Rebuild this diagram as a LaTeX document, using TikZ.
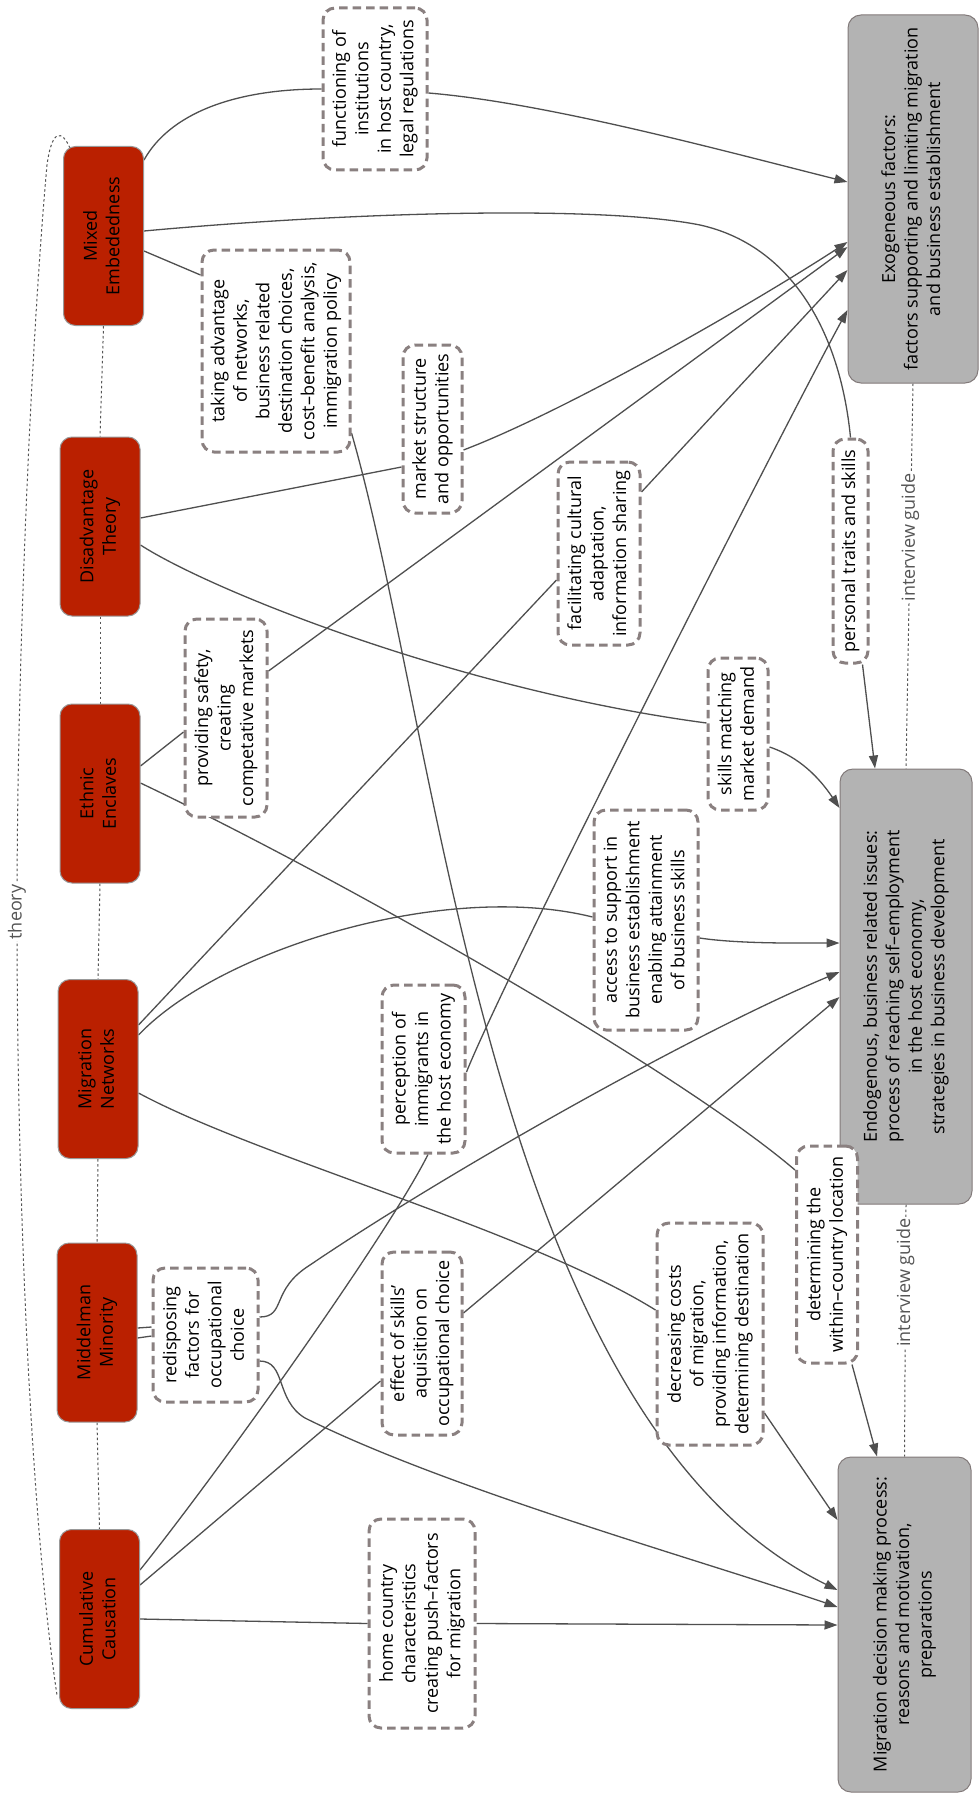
\documentclass[tikz,border=0pt]{standalone}
\usepackage{fontspec}
\setmainfont{Open Sans}
\usetikzlibrary{arrows.meta,calc,backgrounds}
\definecolor{thred}{HTML}{BA2000}
\definecolor{tgray}{HTML}{B3B3B3}
\definecolor{tborder}{HTML}{827A7A}
\definecolor{lborder}{HTML}{8A8080}
\definecolor{edgec}{HTML}{4F4F4F}
\definecolor{guidec}{HTML}{555555}
\newcommand{\vtxt}[1]{\rotatebox{90}{\begin{tabular}{@{}c@{}}#1\end{tabular}}}
\begin{document}
\begin{tikzpicture}[x=1pt,y=-1pt,
  every node/.style={font=\fontsize{18}{22.5}\selectfont, inner sep=0pt},
  theorybox/.style={draw=gray!80, fill=thred, rounded corners=12pt, line width=1pt, minimum width=80pt, minimum height=179pt},
  targetbox/.style={draw=tborder, fill=tgray, rounded corners=13pt, line width=1pt},
  lblbox/.style={draw=lborder, fill=white, dash pattern=on 8.5pt off 5pt, line width=3pt, rounded corners=12pt},
  conn/.style={draw=edgec, line width=1.3pt},
  arr/.style={conn, -{Triangle[length=13pt,width=9pt]}},
  dotline/.style={draw=guidec, line width=1pt, dash pattern=on 2.5pt off 2.5pt},
  guidelbl/.style={fill=white, text=guidec, inner sep=1.5pt}
]
\useasboundingbox (0,0) rectangle (979,1798);

% theory nodes
\node[theorybox] (mixed) at (103.5,236) {\vtxt{Mixed\\Embededness}};
\node[theorybox] (disadv) at (100,526.5) {\vtxt{Disadvantage\\Theory}};
\node[theorybox] (ethnic) at (100,793.5) {\vtxt{Ethnic\\Enclaves}};
\node[theorybox] (networks) at (98,1069) {\vtxt{Migration\\Networks}};
\node[theorybox] (middleman) at (97,1332.5) {\vtxt{Middelman\\Minority}};
\node[theorybox] (cumulative) at (99.5,1619) {\vtxt{Cumulative\\Causation}};

% target nodes
\node[targetbox, minimum width=130pt, minimum height=368pt] (exo) at (913,199) {\vtxt{Exogeneous factors:\\factors supporting and limiting migration\\and business establishment}};
\node[targetbox, minimum width=132pt, minimum height=435pt] (endo) at (906,986.5) {\vtxt{Endogenous, business related issues:\\process of reaching self--employment\\in the host economy,\\strategies in business development}};
\node[targetbox, minimum width=133pt, minimum height=335pt] (migdec) at (904.5,1624.5) {\vtxt{Migration decision making process:\\reasons and motivation,\\preparations}};

% label boxes
\node[lblbox, minimum width=104pt, minimum height=162pt] (functioning) at (375,89) {\vtxt{functioning of\\institutions\\in host country,\\legal regulations}};
\node[lblbox, minimum width=148pt, minimum height=202pt] (taking) at (276,351) {\vtxt{taking advantage\\of networks,\\business related\\destination choices,\\cost--benefit analysis,\\immigration policy}};
\node[lblbox, minimum width=59pt, minimum height=168pt] (market) at (432.5,429) {\vtxt{market structure\\and opportunities}};
\node[lblbox, minimum width=82pt, minimum height=183pt] (facilitating) at (599,553.5) {\vtxt{facilitating cultural\\adaptation,\\information sharing}};
\node[lblbox, minimum width=82pt, minimum height=198pt] (safety) at (226,718) {\vtxt{providing safety,\\creating\\competative markets}};
\node[lblbox, minimum width=60pt, minimum height=152pt] (skillsmatch) at (738,734) {\vtxt{skills matching\\market demand}};
\node[lblbox, minimum width=104pt, minimum height=220pt] (access) at (646,920) {\vtxt{access to support in\\business establishment\\enabling attainment\\of business skills}};
\node[lblbox, minimum width=35pt, minimum height=224pt] (personal) at (850.5,551) {\vtxt{personal traits and skills}};
\node[lblbox, minimum width=83pt, minimum height=168pt] (perception) at (423.5,1069) {\vtxt{perception of\\immigrants in\\the host economy}};
\node[lblbox, minimum width=61pt, minimum height=217pt] (determining) at (827,1254.5) {\vtxt{determining the\\within--country location}};
\node[lblbox, minimum width=106pt, minimum height=222pt] (decreasing) at (710,1334) {\vtxt{decreasing costs\\of migration,\\providing information,\\determining destination}};
\node[lblbox, minimum width=80pt, minimum height=183pt] (effect) at (422,1343.5) {\vtxt{effect of skills'\\aquisition on\\occupational choice}};
\node[lblbox, minimum width=105pt, minimum height=134pt] (redisposing) at (205.5,1335) {\vtxt{redisposing\\factors for\\occupational\\choice}};
\node[lblbox, minimum width=106pt, minimum height=209pt] (home) at (422,1623.5) {\vtxt{home country\\characteristics\\creating push--factors\\for migration}};

\begin{pgfonlayer}{background}
\fill[white] (0,0) rectangle (979,1798);

% theory chain
\draw[dotline] (mixed.south) -- (disadv.north);
\draw[dotline] (disadv.south) -- (ethnic.north);
\draw[dotline] (ethnic.south) -- (networks.north);
\draw[dotline] (networks.south) -- (middleman.north);
\draw[dotline] (middleman.south) -- (cumulative.north);
\draw[dotline] ([xshift=7pt,yshift=-2pt]mixed.north west) .. controls (62,130) and (52,128) .. (47,165) .. controls (32,330) and (17,650) .. (17,912) node[guidelbl] (thlbl) {\rotatebox{90}{theory}} .. controls (17,1250) and (35,1550) .. ([xshift=-2pt,yshift=14pt]cumulative.south west);

% interview guide
\draw[dotline] (exo.south) -- node[guidelbl, pos=0.4] (ig1) {\rotatebox{90}{interview guide}} (endo.north);
\draw[dotline] (endo.south) -- node[guidelbl, pos=0.31] (ig2) {\rotatebox{90}{interview guide}} (migdec.north);

% Mixed Embededness
\draw[conn] ([yshift=76pt]mixed.east) .. controls +(25,-45) and +(-90,0) .. (functioning.west);
\draw[arr] ([yshift=-4pt]functioning.east) .. controls +(120,10) and +(-120,-30) .. ([yshift=17pt]exo.west);
\draw[conn] ([yshift=5pt]mixed.east) .. controls (350,212) and (600,205) .. (700,225) .. controls (790,245) and (840,330) .. (personal.north);
\draw[arr] ([xshift=12pt]personal.south) -- ([xshift=-31pt]endo.north);
\draw[conn] ([yshift=-15pt]mixed.east) -- ([yshift=76pt]taking.west);
\draw[arr] ([yshift=-82pt]taking.east) .. controls (440,740) and (490,1420) .. ([yshift=34.5pt]migdec.west);

% Disadvantage Theory
\draw[conn] ([yshift=8.5pt]disadv.east) -- ([yshift=-38pt]market.west);
\draw[arr] ([yshift=-21pt]market.east) .. controls +(100,-38) and +(-100,65) .. ([yshift=-43pt]exo.west);
\draw[conn] ([yshift=-18.5pt]disadv.east) .. controls (210,590) and (458,690) .. ([yshift=11pt]skillsmatch.west);
\draw[arr] ([yshift=-13pt]skillsmatch.east) .. controls +(30,10) and +(-20,-30) .. ([yshift=178.5pt]endo.west);

% Ethnic Enclaves
\draw[conn] ([yshift=27.5pt]ethnic.east) -- ([yshift=-14pt]safety.west);
\draw[arr] ([yshift=47pt]safety.east) -- ([yshift=-48pt]exo.west);
\draw[conn] ([yshift=10.5pt]ethnic.east) .. controls (340,878) and (678,1070) .. ([yshift=84.5pt]determining.west);
\draw[arr] ([xshift=25pt]determining.south) -- ([xshift=-27.5pt]migdec.north);

% Migration Networks
\draw[conn] ([yshift=44pt]networks.east) -- ([yshift=-26.5pt]facilitating.west);
\draw[arr] ([yshift=61.5pt]facilitating.east) -- ([yshift=-71pt]exo.west);
\draw[conn] ([yshift=34pt]networks.east) .. controls (219,950) and (444,880) .. ([yshift=3pt]access.west);
\draw[arr] ([yshift=-18pt]access.east) .. controls +(40,6) and +(-40,0) .. ([yshift=43.5pt]endo.west);
\draw[conn] ([yshift=-24pt]networks.east) .. controls (259,1158) and (527,1230) .. ([yshift=24pt]decreasing.west);
\draw[arr] ([yshift=-79pt]decreasing.east) -- ([yshift=104.5pt]migdec.west);

% Middelman Minority
\draw[conn] ([yshift=4.5pt]middleman.east) -- ([yshift=8pt]redisposing.west);
\draw[conn] ([yshift=-5.5pt]middleman.east) -- ([yshift=-1pt]redisposing.west);
\draw[arr] ([yshift=18pt]redisposing.east) .. controls +(27,0) and (270,1290) .. (310,1265) .. controls (450,1170) and (700,1030) .. ([yshift=14.5pt]endo.west);
\draw[arr] ([yshift=-26pt]redisposing.east) .. controls +(27,0) and (275,1400) .. (305,1418) .. controls (450,1490) and (700,1560) .. ([yshift=17.5pt]migdec.west);

% Cumulative Causation
\draw[conn] ([yshift=49pt]cumulative.east) .. controls +(80,-100) and +(-40,80) .. ([xshift=4.5pt]perception.south);
\draw[arr] ([yshift=-3pt]perception.east) .. controls +(40,-100) and +(-60,110) .. ([yshift=-111pt]exo.west);
\draw[conn] ([yshift=34pt]cumulative.east) -- ([yshift=-37.5pt]effect.west);
\draw[arr] ([yshift=30.5pt]effect.east) -- ([yshift=-10.5pt]endo.west);
\draw[conn] (cumulative.east) -- (home.west);
\draw[arr] (home.east) -- ([yshift=-0.5pt]migdec.west);
\end{pgfonlayer}
\end{tikzpicture}
\end{document}
